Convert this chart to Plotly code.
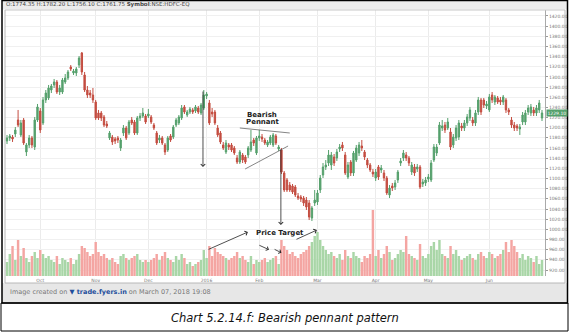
import plotly.graph_objects as go

W, H = 570, 333

opens = [
    1174.0, 1179.9, 1181.8, 1187.7, 1215.3, 1185.8, 1215.3, 1152.3, 1166.1, 1179.9,
    1162.1, 1215.3, 1233.0, 1209.4, 1254.7, 1258.6, 1274.3, 1284.2, 1290.1, 1270.4,
    1270.4, 1290.1, 1298.0, 1319.6, 1307.8, 1307.8, 1323.5, 1347.2, 1303.9, 1274.3,
    1268.4, 1264.5, 1250.7, 1229.1, 1229.1, 1221.2, 1207.4, 1179.9, 1181.8, 1177.9,
    1179.9, 1160.2, 1189.7, 1199.5, 1189.7, 1215.3, 1211.4, 1189.7, 1219.2, 1223.2,
    1223.2, 1223.2, 1221.2, 1205.4, 1189.7, 1175.9, 1179.9, 1166.1, 1156.2, 1183.8,
    1181.8, 1205.4, 1209.4, 1219.2, 1240.9, 1225.1, 1231.0, 1235.0, 1233.0, 1238.9,
    1229.1, 1238.9, 1262.5, 1248.8, 1231.0, 1231.0, 1199.5, 1189.7, 1166.1, 1152.3,
    1166.1, 1166.1, 1160.2, 1140.5, 1132.6, 1146.4, 1142.5, 1146.4, 1156.2, 1175.9,
    1150.3, 1179.9, 1181.8, 1175.9, 1166.1, 1170.0, 1166.1, 1183.8, 1158.2, 1156.2,
    1111.0, 1097.2, 1087.3, 1085.4, 1083.4, 1065.7, 1063.7, 1061.7, 1057.8, 1051.9,
    1022.3, 1051.9, 1053.9, 1077.5, 1107.0, 1122.8, 1130.6, 1126.7, 1142.5, 1140.5,
    1158.2, 1166.1, 1146.4, 1103.1, 1132.6, 1111.0, 1136.5, 1150.3, 1164.1, 1152.3,
    1136.5, 1126.7, 1112.9, 1101.1, 1122.8, 1116.9, 1111.0, 1101.1, 1067.7, 1085.4,
    1083.4, 1097.2, 1130.6, 1140.5, 1146.4, 1140.5, 1112.9, 1122.8, 1118.8, 1122.8,
    1089.3, 1091.3, 1099.1, 1097.2, 1136.5, 1150.3, 1170.0, 1199.5, 1205.4, 1199.5,
    1191.7, 1166.1, 1179.9, 1181.8, 1203.5, 1199.5, 1209.4, 1219.2, 1215.3, 1209.4,
    1231.0, 1254.7, 1254.7, 1242.9, 1235.0, 1264.5, 1250.7, 1258.6, 1254.7, 1250.7,
    1254.7, 1235.0, 1215.3, 1205.4, 1203.5, 1197.6, 1211.4, 1211.4, 1231.0, 1229.1,
    1235.0, 1229.1, 1235.0, 1219.2,
]
highs = [
    1185.8, 1187.7, 1185.8, 1201.5, 1235.0, 1215.3, 1219.2, 1170.0, 1185.8, 1183.8,
    1221.2, 1246.8, 1238.9, 1260.6, 1274.3, 1284.2, 1286.2, 1296.0, 1294.0, 1284.2,
    1298.0, 1305.8, 1313.7, 1323.5, 1315.7, 1319.6, 1341.2, 1349.1, 1309.8, 1282.2,
    1274.3, 1278.3, 1254.7, 1235.0, 1233.0, 1225.1, 1213.3, 1193.6, 1185.8, 1181.8,
    1183.8, 1179.9, 1205.4, 1203.5, 1215.3, 1221.2, 1215.3, 1223.2, 1229.1, 1238.9,
    1227.1, 1236.9, 1225.1, 1209.4, 1193.6, 1185.8, 1183.8, 1170.0, 1183.8, 1187.7,
    1205.4, 1219.2, 1225.1, 1244.8, 1244.8, 1235.0, 1240.9, 1238.9, 1244.8, 1242.9,
    1248.8, 1274.3, 1270.4, 1254.7, 1238.9, 1235.0, 1205.4, 1193.6, 1172.0, 1175.9,
    1170.0, 1170.0, 1164.1, 1146.4, 1156.2, 1150.3, 1146.4, 1164.1, 1195.6, 1179.9,
    1183.8, 1195.6, 1187.7, 1179.9, 1175.9, 1185.8, 1189.7, 1187.7, 1166.1, 1160.2,
    1114.9, 1101.1, 1093.2, 1089.3, 1087.3, 1071.6, 1067.7, 1065.7, 1063.7, 1057.8,
    1046.0, 1077.5, 1077.5, 1107.0, 1130.6, 1136.5, 1156.2, 1152.3, 1148.4, 1158.2,
    1168.0, 1172.0, 1152.3, 1132.6, 1136.5, 1154.3, 1166.1, 1172.0, 1175.9, 1156.2,
    1140.5, 1130.6, 1118.8, 1118.8, 1126.7, 1126.7, 1116.9, 1105.1, 1087.3, 1091.3,
    1097.2, 1116.9, 1140.5, 1156.2, 1152.3, 1144.4, 1132.6, 1128.7, 1128.7, 1126.7,
    1099.1, 1103.1, 1109.0, 1136.5, 1168.0, 1168.0, 1211.4, 1215.3, 1211.4, 1219.2,
    1199.5, 1187.7, 1205.4, 1215.3, 1209.4, 1215.3, 1227.1, 1240.9, 1221.2, 1235.0,
    1260.6, 1258.6, 1258.6, 1252.7, 1266.5, 1270.4, 1264.5, 1262.5, 1260.6, 1264.5,
    1258.6, 1238.9, 1221.2, 1211.4, 1207.4, 1207.4, 1231.0, 1235.0, 1244.8, 1246.8,
    1240.9, 1244.8, 1254.7, 1235.0,
]
lows = [
    1168.0, 1174.0, 1172.0, 1181.8, 1201.5, 1181.8, 1166.1, 1144.4, 1160.2, 1160.2,
    1156.2, 1211.4, 1189.7, 1205.4, 1248.8, 1254.7, 1268.4, 1278.3, 1266.5, 1264.5,
    1266.5, 1286.2, 1294.0, 1311.7, 1303.9, 1301.9, 1317.6, 1303.9, 1270.4, 1258.6,
    1258.6, 1248.8, 1215.3, 1215.3, 1213.3, 1201.5, 1199.5, 1175.9, 1166.1, 1168.0,
    1170.0, 1154.3, 1183.8, 1175.9, 1185.8, 1205.4, 1185.8, 1185.8, 1213.3, 1219.2,
    1207.4, 1219.2, 1207.4, 1195.6, 1166.1, 1170.0, 1166.1, 1146.4, 1152.3, 1172.0,
    1177.9, 1201.5, 1205.4, 1215.3, 1227.1, 1221.2, 1227.1, 1227.1, 1229.1, 1227.1,
    1225.1, 1235.0, 1256.6, 1205.4, 1221.2, 1205.4, 1181.8, 1168.0, 1156.2, 1148.4,
    1156.2, 1152.3, 1146.4, 1128.7, 1128.7, 1130.6, 1128.7, 1140.5, 1152.3, 1164.1,
    1146.4, 1174.0, 1172.0, 1166.1, 1162.1, 1166.1, 1162.1, 1166.1, 1154.3, 1109.0,
    1073.6, 1073.6, 1073.6, 1069.6, 1063.7, 1057.8, 1053.9, 1046.0, 1038.1, 1018.4,
    1016.4, 1046.0, 1048.0, 1071.6, 1101.1, 1116.9, 1124.7, 1116.9, 1124.7, 1134.6,
    1152.3, 1154.3, 1107.0, 1099.1, 1105.1, 1105.1, 1132.6, 1144.4, 1154.3, 1136.5,
    1120.8, 1112.9, 1103.1, 1095.2, 1097.2, 1111.0, 1095.2, 1067.7, 1061.7, 1075.5,
    1077.5, 1091.3, 1124.7, 1134.6, 1134.6, 1124.7, 1107.0, 1105.1, 1112.9, 1079.5,
    1083.4, 1085.4, 1093.2, 1093.2, 1132.6, 1144.4, 1166.1, 1193.6, 1189.7, 1195.6,
    1156.2, 1160.2, 1174.0, 1175.9, 1193.6, 1193.6, 1203.5, 1213.3, 1203.5, 1203.5,
    1225.1, 1225.1, 1238.9, 1236.9, 1231.0, 1248.8, 1244.8, 1246.8, 1244.8, 1244.8,
    1229.1, 1225.1, 1199.5, 1193.6, 1193.6, 1185.8, 1205.4, 1205.4, 1225.1, 1223.2,
    1223.2, 1223.2, 1229.1, 1213.3,
]
closes = [
    1179.9, 1183.8, 1177.9, 1195.6, 1205.4, 1209.4, 1170.0, 1166.1, 1179.9, 1166.1,
    1215.3, 1240.9, 1195.6, 1254.7, 1268.4, 1278.3, 1282.2, 1290.1, 1270.4, 1278.3,
    1294.0, 1298.0, 1309.8, 1315.7, 1311.7, 1315.7, 1337.3, 1309.8, 1274.3, 1264.5,
    1264.5, 1254.7, 1219.2, 1219.2, 1219.2, 1205.4, 1203.5, 1189.7, 1172.0, 1174.0,
    1175.9, 1175.9, 1199.5, 1179.9, 1211.4, 1209.4, 1189.7, 1219.2, 1223.2, 1229.1,
    1211.4, 1227.1, 1211.4, 1199.5, 1170.0, 1179.9, 1170.0, 1152.3, 1179.9, 1175.9,
    1201.5, 1215.3, 1221.2, 1238.9, 1231.0, 1231.0, 1236.9, 1231.0, 1240.9, 1231.0,
    1244.8, 1264.5, 1266.5, 1209.4, 1227.1, 1209.4, 1185.8, 1172.0, 1160.2, 1170.0,
    1162.1, 1156.2, 1150.3, 1132.6, 1152.3, 1136.5, 1132.6, 1160.2, 1172.0, 1170.0,
    1179.9, 1183.8, 1177.9, 1170.0, 1172.0, 1181.8, 1185.8, 1170.0, 1162.1, 1112.9,
    1077.5, 1077.5, 1077.5, 1073.6, 1067.7, 1061.7, 1059.8, 1051.9, 1044.0, 1024.3,
    1042.1, 1057.8, 1071.6, 1101.1, 1122.8, 1126.7, 1146.4, 1146.4, 1130.6, 1152.3,
    1162.1, 1160.2, 1111.0, 1126.7, 1111.0, 1150.3, 1160.2, 1166.1, 1160.2, 1142.5,
    1126.7, 1116.9, 1109.0, 1112.9, 1103.1, 1120.8, 1101.1, 1071.6, 1081.4, 1081.4,
    1091.3, 1112.9, 1134.6, 1150.3, 1140.5, 1130.6, 1126.7, 1111.0, 1122.8, 1083.4,
    1093.2, 1097.2, 1103.1, 1130.6, 1162.1, 1162.1, 1205.4, 1203.5, 1195.6, 1211.4,
    1162.1, 1181.8, 1199.5, 1209.4, 1199.5, 1209.4, 1221.2, 1235.0, 1209.4, 1229.1,
    1254.7, 1231.0, 1244.8, 1246.8, 1260.6, 1254.7, 1260.6, 1250.7, 1250.7, 1260.6,
    1235.0, 1231.0, 1205.4, 1199.5, 1199.5, 1201.5, 1225.1, 1229.1, 1238.9, 1240.9,
    1229.1, 1238.9, 1248.8, 1229.1,
]
volumes = [
    14, 22, 30, 16, 36, 20, 28, 18, 14, 20, 24, 18,
    26, 22, 18, 20, 16, 14, 20, 12, 18, 16, 14, 18, 12, 16, 22, 30, 28, 24, 20, 22,
    34, 24, 20, 22, 18, 16, 18, 14, 12, 20, 22, 18, 16, 18, 20, 22, 16, 14, 16,
    14, 16, 18, 22, 16, 20, 24, 18, 16, 14, 20, 16, 22, 18, 12, 14, 10, 12, 14, 16, 26,
    18, 30, 20, 28, 24, 22, 20, 18, 16, 18, 20, 24, 18, 20, 16, 14, 20, 12, 16,
    14, 16, 18, 14, 16, 18, 20, 12, 36, 30, 26, 22, 24, 20, 18, 22, 24, 26, 30, 34, 40,
    44, 36, 30, 26, 22, 24, 20, 18, 22, 16, 26, 20, 18, 24, 20, 18, 14, 20, 18, 22, 66,
    20, 26, 18, 22, 30, 24, 16, 18, 22, 26, 24, 40, 22, 20, 18, 16, 32, 20, 18,
    22, 30, 34, 26, 36, 22, 20, 18, 30, 22, 26, 20, 16, 18, 20, 22, 18, 16, 22, 24, 20, 18,
    24, 22, 18, 20, 22, 26, 34, 24, 36, 30, 24, 18, 22, 16, 20, 18, 14, 20, 12, 16,
]
month_index = [12, 32, 51, 72, 91, 112, 133, 152, 174]
month_labels = ["Oct", "Nov", "Dec", "2016", "Feb", "Mar", "Apr", "May", "Jun"]
price_ticks = list(range(920, 1421, 20))
last_price = 1229.10

GREEN, RED = "#55a06c", "#c44d40"
VGREEN, VRED = "#a9d6a7", "#f4a5a2"

x = list(range(len(opens)))
vcol = [VGREEN if c >= o else VRED for o, c in zip(opens, closes)]


def px(v):
    return v / W


def py(v):
    return 1 - v / H


fig = go.Figure()
fig.add_trace(go.Bar(x=x, y=volumes, marker=dict(color=vcol, line=dict(width=0)),
                     yaxis="y", hoverinfo="skip"))
fig.add_trace(go.Candlestick(
    x=x, open=opens, high=highs, low=lows, close=closes, yaxis="y2",
    increasing=dict(line=dict(color=GREEN, width=1), fillcolor=GREEN),
    decreasing=dict(line=dict(color=RED, width=1), fillcolor=RED),
    whiskerwidth=0))

dom_y = [py(276), py(10)]
fig.update_layout(
    width=W, height=H, margin=dict(l=0, r=0, t=0, b=0),
    paper_bgcolor="white", plot_bgcolor="white", showlegend=False,
    bargap=0.12, boxgap=0.3,
    font=dict(family="DejaVu Sans", color="#555"),
    xaxis=dict(domain=[px(5), px(545)], range=[-0.72, 194.08],
               tickvals=month_index, ticktext=month_labels, ticks="",
               tickfont=dict(size=4.5, color="#777"), showgrid=True,
               gridcolor="#ebebeb", gridwidth=1, zeroline=False,
               showline=False, rangeslider=dict(visible=False)),
    yaxis=dict(domain=dom_y, range=[0, 266], visible=False, showgrid=False),
    yaxis2=dict(domain=dom_y, range=[908.2, 1431.8], overlaying="y", side="right",
                anchor="x", tickvals=price_ticks, tickformat=".2f",
                tickfont=dict(size=4.5, color="#777"), ticks="outside",
                ticklen=2, tickcolor="#999", showline=True, linecolor="#aaa",
                linewidth=1, showgrid=True, gridcolor="#f0f0f0", zeroline=False),
)

shapes = []
# header strip
shapes.append(dict(type="rect", xref="paper", yref="paper", x0=px(2), x1=px(567),
                   y0=py(9.5), y1=py(0), fillcolor="#ececec", line=dict(width=0), layer="below"))
shapes.append(dict(type="line", xref="paper", yref="paper", x0=px(5), x1=px(565),
                   y0=py(10), y1=py(10), line=dict(color="#c8c8c8", width=1)))
# bottom strip
shapes.append(dict(type="rect", xref="paper", yref="paper", x0=px(2), x1=px(567),
                   y0=py(302.5), y1=py(283), fillcolor="#e7e7e7", line=dict(width=0), layer="below"))
shapes.append(dict(type="line", xref="paper", yref="paper", x0=px(5), x1=px(565),
                   y0=py(283), y1=py(283), line=dict(color="#b8b8b8", width=1)))
shapes.append(dict(type="line", xref="paper", yref="paper", x0=px(5), x1=px(5),
                   y0=py(283), y1=py(10), line=dict(color="#b8b8b8", width=1)))
shapes.append(dict(type="line", xref="paper", yref="paper", x0=px(565), x1=px(565),
                   y0=py(283), y1=py(10), line=dict(color="#b8b8b8", width=1)))
# outer frame and caption box
shapes.append(dict(type="rect", xref="paper", yref="paper", x0=px(2), x1=px(567.5),
                   y0=py(303), y1=py(0.5), line=dict(color="black", width=1.5)))
shapes.append(dict(type="rect", xref="paper", yref="paper", x0=px(1), x1=px(568),
                   y0=py(331), y1=py(303), line=dict(color="black", width=1)))
# pennant lines
shapes.append(dict(type="line", xref="x", yref="y2", x0=84, y0=1199.5, x1=102, y1=1189.7,
                   line=dict(color="#666", width=0.8)))
shapes.append(dict(type="line", xref="x", yref="y2", x0=85.9, y0=1118.8, x1=101.4, y1=1164.1,
                   line=dict(color="#666", width=0.8)))
fig.update_layout(shapes=shapes)

ann = []
ann.append(dict(xref="paper", yref="paper", x=px(4), y=py(4.5), xanchor="left", yanchor="middle",
                text="O:1774.35 H:1782.20 L:1756.10 C:1761.75 <b>Symbol</b>:NSE:HDFC-EQ",
                showarrow=False, font=dict(size=5.5, color="#444")))
ann.append(dict(xref="paper", yref="y2", x=px(545.5), y=last_price, xanchor="left",
                yanchor="middle", text="%.2f" % last_price, showarrow=False,
                bgcolor=GREEN, borderpad=0.5, font=dict(size=4.5, color="white")))
# vertical arrows
ann.append(dict(xref="x", yref="y2", axref="x", ayref="y2", x=70.7, y=1122.8,
                ax=70.7, ay=1274.3, text="", showarrow=True, arrowhead=4,
                arrowsize=1.1, arrowwidth=0.8, arrowcolor="#222"))
ann.append(dict(xref="x", yref="y2", axref="x", ayref="y2", x=98.8, y=1008.6,
                ax=98.8, ay=1160.2, text="", showarrow=True, arrowhead=4,
                arrowsize=1.1, arrowwidth=0.8, arrowcolor="#222"))
# diagonal arrows toward volume
ann.append(dict(xref="x", yref="y2", axref="x", ayref="y2", x=86.9, y=994.8,
                ax=72.2, ay=959.4, text="", showarrow=True, arrowhead=4,
                arrowsize=1.1, arrowwidth=0.8, arrowcolor="#222"))
ann.append(dict(xref="x", yref="y2", axref="x", ayref="y2", x=111.8, y=998.7,
                ax=103.9, ay=979.1, text="", showarrow=True, arrowhead=4,
                arrowsize=1.1, arrowwidth=0.8, arrowcolor="#222"))
ann.append(dict(xref="x", yref="y2", axref="x", ayref="y2", x=94.5, y=960.0,
                ax=90.5, ay=970.0, text="", showarrow=True, arrowhead=4,
                arrowsize=1.0, arrowwidth=0.8, arrowcolor="#222"))
ann.append(dict(xref="x", yref="y2", axref="x", ayref="y2", x=99.0, y=954.0,
                ax=96.0, ay=962.0, text="", showarrow=True, arrowhead=4,
                arrowsize=1.0, arrowwidth=0.8, arrowcolor="#222"))
# labels
ann.append(dict(xref="x", yref="y2", x=92, y=1225.1, text="<b>Bearish</b>", showarrow=False,
                font=dict(size=7, color="#222")))
ann.append(dict(xref="x", yref="y2", x=92.3, y=1211.4, text="<b>Pennant</b>", showarrow=False,
                font=dict(size=7, color="#222")))
ann.append(dict(xref="x", yref="y2", x=98.5, y=992.9, text="<b>Price Target</b>", showarrow=False,
                font=dict(size=7, color="#222")))
# footer (one text, mixed styling)
ann.append(dict(xref="paper", yref="paper", x=px(8), y=py(292), xanchor="left", yanchor="middle",
                text=("Image created on <span style='color:#1f4f9c'><b>▼ trade.fyers.in</b></span>"
                      " on March 07, 2018 19:08"),
                showarrow=False, font=dict(size=6.5, color="#777")))
# caption
ann.append(dict(xref="paper", yref="paper", x=px(285), y=py(318), xanchor="center", yanchor="middle",
                text="<i>Chart 5.2.14.f: Bearish pennant pattern</i>", showarrow=False,
                font=dict(size=11.5, color="#111", family="DejaVu Sans")))
fig.update_layout(annotations=ann)

fig.write_html("out.html")
